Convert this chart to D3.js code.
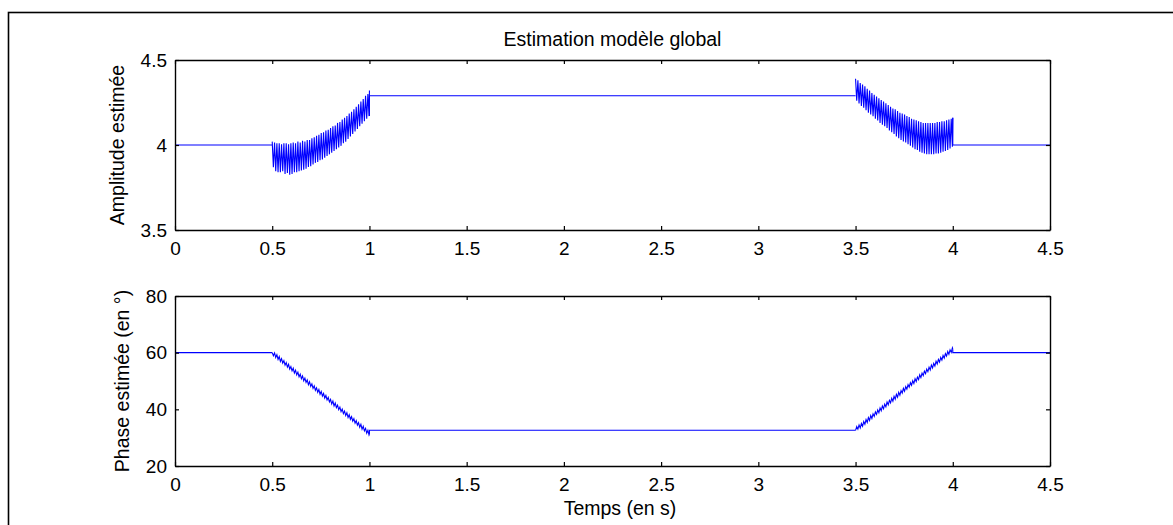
<!DOCTYPE html>
<html><head><meta charset="utf-8">
<script src="https://cdn.jsdelivr.net/npm/d3@7"></script>
<style>body{margin:0;background:#fff}svg{display:block}text{font-family:"Liberation Sans",Arial,sans-serif;fill:#000}</style>
</head><body><svg id="c" width="1173" height="525"></svg>
<script>
// ---- data ----
const titleText = "Estimation modèle global";
const xLabel = "Temps (en s)";
const ampLabel = "Amplitude estimée";
const phaseLabel = "Phase estimée (en °)";
const xTicks = [0, 0.5, 1, 1.5, 2, 2.5, 3, 3.5, 4, 4.5];
const ampTicks = [3.5, 4, 4.5];
const phaseTicks = [20, 40, 60, 80];

// sample times of the two transient windows
const rampTimeA = [0.500,0.506,0.512,0.518,0.524,0.530,0.536,0.542,0.548,0.554,0.560,0.566,0.572,0.578,0.584,0.590,0.596,0.602,0.608,0.614,0.620,0.626,0.632,0.638,0.644,0.650,0.656,0.662,0.668,0.674,0.680,0.686,0.692,0.698,0.704,0.710,0.716,0.722,0.728,0.734,0.740,0.746,0.752,0.758,0.764,0.770,0.776,0.782,0.788,0.794,0.800,0.806,0.812,0.818,0.824,0.830,0.836,0.842,0.848,0.854,0.860,0.866,0.872,0.878,0.884,0.890,0.896,0.902,0.908,0.914,0.920,0.926,0.932,0.938,0.944,0.950,0.956,0.962,0.968,0.974,0.980,0.986,0.992,0.998,1.000];
const rampTimeB = [3.500,3.506,3.512,3.518,3.524,3.530,3.536,3.542,3.548,3.554,3.560,3.566,3.572,3.578,3.584,3.590,3.596,3.602,3.608,3.614,3.620,3.626,3.632,3.638,3.644,3.650,3.656,3.662,3.668,3.674,3.680,3.686,3.692,3.698,3.704,3.710,3.716,3.722,3.728,3.734,3.740,3.746,3.752,3.758,3.764,3.770,3.776,3.782,3.788,3.794,3.800,3.806,3.812,3.818,3.824,3.830,3.836,3.842,3.848,3.854,3.860,3.866,3.872,3.878,3.884,3.890,3.896,3.902,3.908,3.914,3.920,3.926,3.932,3.938,3.944,3.950,3.956,3.962,3.968,3.974,3.980,3.986,3.992,3.998,4.000];

const ampTime1 = [0, 0.5];
const ampVal1 = [4.0, 4.0];
const ampVal2 = [4.02,3.87,4.015,3.845,4.01,3.84,4.01,3.84,4.005,3.845,4.01,3.83,4.01,3.835,4.005,3.825,4.01,3.83,4.015,3.84,4.01,3.84,4.02,3.845,4.015,3.85,4.025,3.855,4.02,3.86,4.03,3.87,4.03,3.875,4.04,3.885,4.045,3.895,4.055,3.90,4.06,3.91,4.07,3.915,4.075,3.925,4.085,3.935,4.09,3.945,4.10,3.955,4.11,3.965,4.115,3.975,4.13,3.985,4.135,3.995,4.15,4.01,4.16,4.02,4.17,4.035,4.185,4.05,4.195,4.065,4.21,4.08,4.225,4.095,4.24,4.11,4.255,4.125,4.27,4.14,4.29,4.155,4.30,4.17,4.32];
const ampTime3 = [1.0, 1.0, 3.5];
const ampVal3 = [4.17, 4.29, 4.29];
const ampVal4 = [4.39,4.26,4.38,4.245,4.365,4.23,4.355,4.22,4.345,4.205,4.33,4.19,4.32,4.18,4.305,4.17,4.295,4.155,4.285,4.145,4.275,4.13,4.265,4.12,4.255,4.11,4.245,4.10,4.235,4.085,4.225,4.075,4.215,4.065,4.21,4.05,4.20,4.04,4.19,4.03,4.185,4.02,4.18,4.015,4.17,4.005,4.165,3.995,4.155,3.985,4.15,3.975,4.145,3.97,4.14,3.96,4.135,3.955,4.13,3.95,4.13,3.945,4.13,3.945,4.13,3.945,4.13,3.945,4.13,3.95,4.135,3.95,4.135,3.955,4.14,3.96,4.14,3.965,4.145,3.97,4.15,3.98,4.155,3.99,4.16];
const ampTime5 = [4.0, 4.0, 4.5];
const ampVal5 = [4.16, 4.0, 4.0];

const phTime1 = [0, 0.5];
const phVal1 = [60, 60];
const phVal2 = [60.0,58.9,59.9,58.3,59.3,57.6,58.6,56.9,57.9,56.3,57.2,55.6,56.5,54.9,55.9,54.2,55.1,53.6,54.5,52.8,53.8,52.2,53.1,51.5,52.4,50.8,51.8,50.1,51.0,49.5,50.4,48.7,49.7,48.1,49.0,47.4,48.3,46.7,47.6,46.0,47.0,45.3,46.3,44.7,45.6,44.0,44.9,43.3,44.2,42.6,43.5,41.9,42.9,41.2,42.2,40.6,41.5,39.9,40.8,39.2,40.1,38.5,39.4,37.8,38.8,37.1,38.1,36.5,37.4,35.8,36.7,35.1,36.0,34.4,35.3,33.7,34.7,33.0,34.0,32.4,33.3,31.6,32.6,30.9,31.2];
const phTime3 = [1.0, 1.0, 3.5];
const phVal3 = [31.2, 32.6, 32.6];
const phVal4 = [32.6,33.9,33.0,34.5,33.4,35.0,34.0,35.7,34.7,36.4,35.4,37.1,36.1,37.8,36.8,38.4,37.5,39.1,38.2,39.8,38.8,40.5,39.5,41.2,40.2,41.8,40.9,42.6,41.6,43.2,42.3,43.9,42.9,44.6,43.6,45.3,44.3,46.0,45.0,46.6,45.7,47.4,46.4,48.0,47.1,48.7,47.8,49.4,48.5,50.1,49.1,50.8,49.8,51.4,50.5,52.2,51.2,52.8,51.9,53.5,52.6,54.2,53.3,54.9,53.9,55.6,54.6,56.2,55.3,57.0,56.0,57.6,56.7,58.3,57.4,59.0,58.1,59.7,58.8,60.4,59.4,61.0,60.1,61.7,61.2];
const phTime5 = [4.0, 4.0, 4.5];
const phVal5 = [61.2, 60, 60];

// ---- drawing ----
const svg = d3.select("#c");
const L = 175, R = 1050;
const FONT = '"Liberation Sans",Arial,sans-serif';
const x = d3.scaleLinear().domain([0, 4.5]).range([L, R]);

// outer frame
svg.append("rect").attr("x", 8.5).attr("y", 12.5).attr("width", 1200).attr("height", 600)
  .attr("fill", "none").attr("stroke", "#000").attr("stroke-width", 1.6);

function panel(top, bottom, domain, yTicks, series, ylab, labX) {
  const y = d3.scaleLinear().domain(domain).range([bottom, top]);
  const g = svg.append("g");
  g.append("rect").attr("x", L).attr("y", top).attr("width", R - L).attr("height", bottom - top)
    .attr("fill", "#fff");
  const line = d3.line().x(d => x(d[0])).y(d => y(d[1]));
  series.forEach(([t, v]) => {
    g.append("path").datum(t.map((ti, i) => [ti, v[i]]))
      .attr("d", line).attr("fill", "none").attr("stroke", "#0000ff").attr("stroke-width", 1.1);
  });
  const fmt = d => String(d);
  const ax = g.append("g").attr("transform", `translate(0,${bottom})`)
    .call(d3.axisBottom(x).tickValues(xTicks).tickFormat(fmt).tickSizeInner(-4).tickSizeOuter(0).tickPadding(12));
  const axT = g.append("g").attr("transform", `translate(0,${top})`)
    .call(d3.axisTop(x).tickValues(xTicks).tickFormat("").tickSizeInner(-4).tickSizeOuter(0));
  const ay = g.append("g").attr("transform", `translate(${L},0)`)
    .call(d3.axisLeft(y).tickValues(yTicks).tickFormat(fmt).tickSizeInner(-4).tickSizeOuter(0).tickPadding(8));
  const ayR = g.append("g").attr("transform", `translate(${R},0)`)
    .call(d3.axisRight(y).tickValues(yTicks).tickFormat("").tickSizeInner(-4).tickSizeOuter(0));
  [ax, axT, ay, ayR].forEach(a => {
    a.attr("font-size", 19).attr("font-family", FONT);
    a.selectAll(".domain").attr("stroke", "#000").attr("stroke-width", 1.4);
    a.selectAll(".tick line").attr("stroke", "#000").attr("stroke-width", 1.2);
    a.selectAll("text").attr("fill", "#000");
  });
  g.append("text").attr("transform", `translate(${labX},${(top + bottom) / 2}) rotate(-90)`)
    .attr("text-anchor", "middle").attr("font-size", 19.5).attr("font-family", FONT).text(ylab);
  return y;
}

panel(60, 230, [3.5, 4.5], ampTicks,
  [[ampTime1, ampVal1], [rampTimeA, ampVal2], [ampTime3, ampVal3], [rampTimeB, ampVal4], [ampTime5, ampVal5]], ampLabel, 124);
panel(296, 466, [20, 80], phaseTicks,
  [[phTime1, phVal1], [rampTimeA, phVal2], [phTime3, phVal3], [rampTimeB, phVal4], [phTime5, phVal5]], phaseLabel, 129);

svg.append("text").attr("x", (L + R) / 2).attr("y", 46).attr("text-anchor", "middle")
  .attr("font-size", 19.5).attr("font-family", FONT).text(titleText);
svg.append("text").attr("x", 620).attr("y", 515).attr("text-anchor", "middle")
  .attr("font-size", 19.5).attr("font-family", FONT).text(xLabel);
</script></body></html>
